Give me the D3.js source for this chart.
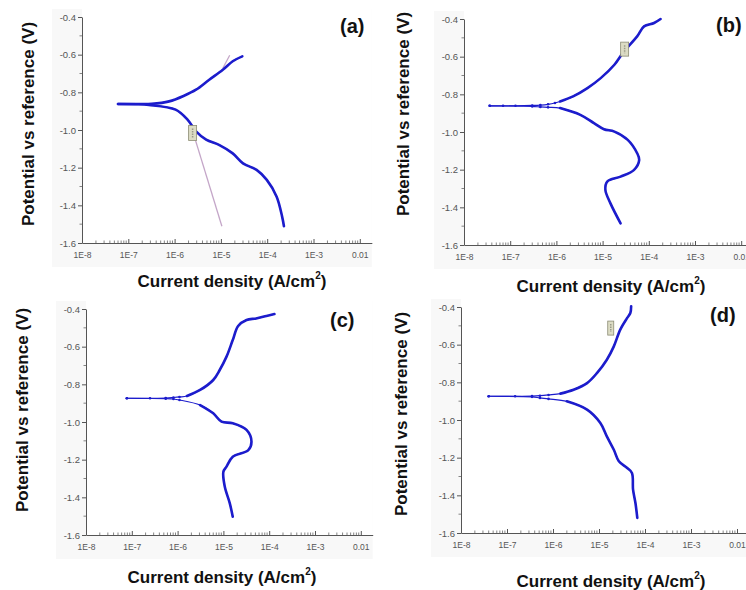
<!DOCTYPE html>
<html>
<head>
<meta charset="utf-8">
<script src="https://cdn.jsdelivr.net/npm/d3@7"></script>
<style>
  body { margin: 0; background: #fff; }
  svg { display: block; }
</style>
</head>
<body>
<svg id="chart" width="746" height="590"></svg>
<script>
// Polarisation curves, [current density (A/cm2), potential (V)]
const aAnodic = [[6.0e-8, -0.862], [1.5e-7, -0.862], [3.2e-7, -0.861], [7.6e-7, -0.848], [1.6e-6, -0.818],
  [2.9e-6, -0.786], [5.6e-6, -0.733], [1.1e-5, -0.680], [1.8e-5, -0.635], [2.9e-5, -0.609]];
const aCathodic = [[6.0e-8, -0.862], [1.5e-7, -0.863], [2.8e-7, -0.867], [1.05e-6, -0.892], [1.9e-6, -0.945],
  [2.9e-6, -1.007], [4.8e-6, -1.051], [9.3e-6, -1.080], [1.8e-5, -1.124], [3.0e-5, -1.177],
  [5.9e-5, -1.212], [9.8e-5, -1.265], [1.6e-4, -1.354], [2.1e-4, -1.460], [2.3e-4, -1.511]];
const aTafelAnodic = [[1.1e-5, -0.672], [1.55e-5, -0.603]];
const aTafelCathodic = [[2.4e-6, -0.998], [1.05e-5, -1.511]];

const bAnodic = [[3.6e-8, -0.861], [7.0e-8, -0.861], [1.3e-7, -0.861], [3.0e-7, -0.859], [4.5e-7, -0.857],
  [6.6e-7, -0.853], [9.3e-7, -0.846], [1.2e-6, -0.838], [2.3e-6, -0.811], [4.7e-6, -0.767],
  [9.1e-6, -0.714], [1.8e-5, -0.643], [2.9e-5, -0.572], [5.6e-5, -0.492], [7.9e-5, -0.439],
  [1.3e-4, -0.421], [1.8e-4, -0.400]];
const bCathodic = [[3.6e-8, -0.861], [3.0e-7, -0.864], [4.5e-7, -0.867], [6.6e-7, -0.869], [1.2e-6, -0.873],
  [3.3e-6, -0.909], [6.5e-6, -0.953], [1.07e-5, -0.985], [1.8e-5, -0.998], [3.5e-5, -1.042],
  [5.6e-5, -1.113], [6.2e-5, -1.148], [4.8e-5, -1.201], [2.45e-5, -1.237], [1.26e-5, -1.263],
  [1.15e-5, -1.308], [1.48e-5, -1.379], [2.45e-5, -1.485]];

const cAnodic = [[7.8e-8, -0.874], [2.5e-7, -0.874], [5.5e-7, -0.873], [8.1e-7, -0.870], [1.1e-6, -0.867],
  [1.6e-6, -0.862], [3.1e-6, -0.830], [6.0e-6, -0.777], [8.3e-6, -0.724], [1.17e-5, -0.653],
  [1.6e-5, -0.565], [2.1e-5, -0.490], [3.2e-5, -0.458], [5.2e-5, -0.450], [8.7e-5, -0.437],
  [1.3e-4, -0.427]];
const cCathodic = [[7.8e-8, -0.874], [5.5e-7, -0.876], [8.1e-7, -0.878], [1.1e-6, -0.883], [3.1e-6, -0.910],
  [6.0e-6, -0.954], [9.1e-6, -0.998], [1.6e-5, -1.007], [3.2e-5, -1.042], [4.1e-5, -1.104],
  [3.5e-5, -1.149], [1.6e-5, -1.184], [1.17e-5, -1.237], [1.0e-5, -1.264], [1.07e-5, -1.343],
  [1.38e-5, -1.432], [1.6e-5, -1.503]];

const dAnodic = [[4.0e-8, -0.874], [1.5e-7, -0.874], [3.5e-7, -0.873], [5.2e-7, -0.871], [8.0e-7, -0.867],
  [1.45e-6, -0.860], [2.8e-6, -0.839], [5.5e-6, -0.804], [9.1e-6, -0.750], [1.48e-5, -0.680],
  [2.1e-5, -0.609], [2.9e-5, -0.520], [4.1e-5, -0.458], [4.8e-5, -0.432], [5.0e-5, -0.396]];
const dCathodic = [[4.0e-8, -0.874], [3.5e-7, -0.877], [5.2e-7, -0.883], [8.0e-7, -0.888], [2.0e-6, -0.901],
  [5.5e-6, -0.945], [1.07e-5, -1.016], [1.48e-5, -1.087], [2.1e-5, -1.158], [2.7e-5, -1.219],
  [4.1e-5, -1.255], [5.2e-5, -1.281], [5.5e-5, -1.370], [6.2e-5, -1.441], [6.8e-5, -1.520]];

// annotation boxes [current, potential]
const aBox = [2.45e-6, -1.016];
const bBox = [3.0e-5, -0.560];
const dBox = [1.8e-5, -0.512];

const xTickValues = [1e-8, 1e-7, 1e-6, 1e-5, 1e-4, 1e-3, 1e-2];
const xTickLabels = ["1E-8", "1E-7", "1E-6", "1E-5", "1E-4", "1E-3", "0.01"];
const yTickValues = [-0.4, -0.6, -0.8, -1.0, -1.2, -1.4, -1.6];
const xDomain = [1e-8, 0.0182];
const yDomain = [-1.6, -0.4];

const panels = [
  { id: "(a)", left: 82, top: 17, bottom: 243, decade: 46.3, series: [aAnodic, aCathodic], thin: 0,
    tafel: [aTafelAnodic, aTafelCathodic], box: aBox, boxW: 8, boxH: 15,
    letter: [340, 33], yTitle: [34, 124], xTitle: [232, 287] },
  { id: "(b)", left: 464, top: 19, bottom: 245, decade: 46.2, series: [bAnodic, bCathodic], thin: 1.1e-6,
    tafel: [], box: bBox, boxW: 8, boxH: 14,
    letter: [716, 32], yTitle: [409, 114], xTitle: [611, 292] },
  { id: "(c)", left: 86, top: 309, bottom: 535, decade: 45.8, series: [cAnodic, cCathodic], thin: 1.5e-6,
    tafel: [], box: null,
    letter: [330, 327], yTitle: [28, 410], xTitle: [222, 583] },
  { id: "(d)", left: 461, top: 307, bottom: 533, decade: 46.0, series: [dAnodic, dCathodic], thin: 1.2e-6,
    tafel: [], box: dBox, boxW: 6, boxH: 14,
    letter: [710, 322], yTitle: [407, 414], xTitle: [611, 587] }
];

const svg = d3.select("#chart");
const font = "Liberation Sans, Arial, sans-serif";
const blue = "#1c1ccc";

panels.forEach(p => {
  const right = p.left + p.decade * Math.log10(xDomain[1] / xDomain[0]);
  const x = d3.scaleLog().domain(xDomain).range([p.left, right]);
  const y = d3.scaleLinear().domain(yDomain).range([p.bottom, p.top]);
  const g = svg.append("g");

  // faint grey plot background
  g.append("rect")
    .attr("x", p.left - 30).attr("y", p.top - 8)
    .attr("width", right - p.left + 30).attr("height", p.bottom - p.top + 32)
    .attr("fill", "#f8f8f8");
  g.append("rect")
    .attr("x", p.left).attr("y", p.top - 8)
    .attr("width", right - p.left).attr("height", p.bottom - p.top + 8)
    .attr("fill", "#fff");

  // minor ticks
  const minorX = [];
  for (let e = -8; e < -1; e++) for (let k = 2; k <= 9; k++) minorX.push(k * Math.pow(10, e));
  g.selectAll(".mx").data(minorX.filter(v => v <= xDomain[1])).join("line")
    .attr("x1", d => x(d)).attr("x2", d => x(d))
    .attr("y1", p.bottom).attr("y2", p.bottom - 2.5)
    .attr("stroke", "#666").attr("stroke-width", 0.8);
  const minorY = d3.range(-1.5, -0.4, 0.2);
  g.selectAll(".my").data(minorY).join("line")
    .attr("x1", p.left).attr("x2", p.left - 2.5)
    .attr("y1", d => y(d)).attr("y2", d => y(d))
    .attr("stroke", "#666").attr("stroke-width", 0.8);

  // x axis
  const xAxis = d3.axisBottom(x).tickValues(xTickValues)
    .tickFormat((d, i) => xTickLabels[i]).tickSizeInner(-4).tickSizeOuter(0).tickPadding(9);
  const gx = g.append("g").attr("transform", `translate(0,${p.bottom})`).call(xAxis);
  gx.select(".domain").attr("stroke", "#555");
  gx.selectAll(".tick line").attr("stroke", "#555");
  gx.selectAll("text").attr("fill", "#555").attr("font-family", font).attr("font-size", 8.5);

  // y axis
  const yAxis = d3.axisLeft(y).tickValues(yTickValues)
    .tickFormat(d => d.toFixed(1)).tickSizeInner(4).tickSizeOuter(0).tickPadding(2);
  const gy = g.append("g").attr("transform", `translate(${p.left},0)`).call(yAxis);
  gy.select(".domain").attr("stroke", "#555");
  gy.selectAll(".tick line").attr("stroke", "#555");
  gy.selectAll("text").attr("fill", "#555").attr("font-family", font).attr("font-size", 9.5);

  // Tafel fit lines
  const straight = d3.line().x(d => x(d[0])).y(d => y(d[1]));
  p.tafel.forEach(t => {
    g.append("path").attr("d", straight(t))
      .attr("fill", "none").attr("stroke", "#c4a6c8").attr("stroke-width", 1.3);
  });

  // curves
  const line = d3.line().x(d => x(d[0])).y(d => y(d[1])).curve(d3.curveCatmullRom.alpha(0.5));
  p.series.forEach(s => {
    g.append("path").attr("d", line(s))
      .attr("fill", "none").attr("stroke", blue).attr("stroke-width", 1.2);
    const thick = s.filter(d => d[0] >= p.thin);
    g.append("path").attr("d", line(thick))
      .attr("fill", "none").attr("stroke", blue).attr("stroke-width", 2.6)
      .attr("stroke-linejoin", "round").attr("stroke-linecap", "round");
    g.selectAll(null).data(s.filter(d => d[0] < p.thin)).join("circle")
      .attr("cx", d => x(d[0])).attr("cy", d => y(d[1])).attr("r", 1.3)
      .attr("fill", blue);
  });

  // little annotation box
  if (p.box) {
    g.append("rect")
      .attr("x", x(p.box[0]) - p.boxW / 2).attr("y", y(p.box[1]) - p.boxH / 2)
      .attr("width", p.boxW).attr("height", p.boxH)
      .attr("fill", "#dcdcc4").attr("stroke", "#8c8c74").attr("stroke-width", 0.8);
    g.append("line")
      .attr("x1", x(p.box[0])).attr("x2", x(p.box[0]))
      .attr("y1", y(p.box[1]) - p.boxH / 2 + 3).attr("y2", y(p.box[1]) + p.boxH / 2 - 3)
      .attr("stroke", "#9a9a88").attr("stroke-width", 1.5).attr("stroke-dasharray", "1.5,1");
  }

  // panel letter
  g.append("text").attr("x", p.letter[0]).attr("y", p.letter[1])
    .attr("font-family", font).attr("font-weight", "bold").attr("font-size", 20)
    .attr("fill", "#111").text(p.id);

  // axis titles
  g.append("text")
    .attr("transform", `translate(${p.yTitle[0]},${p.yTitle[1]}) rotate(-90)`)
    .attr("text-anchor", "middle")
    .attr("font-family", font).attr("font-weight", "bold").attr("font-size", 17)
    .attr("fill", "#111").text("Potential vs reference (V)");
  const xt = g.append("text")
    .attr("x", p.xTitle[0]).attr("y", p.xTitle[1]).attr("text-anchor", "middle")
    .attr("font-family", font).attr("font-weight", "bold").attr("font-size", 17)
    .attr("fill", "#111");
  xt.append("tspan").text("Current density (A/cm");
  xt.append("tspan").attr("dy", -8).attr("font-size", 10).text("2");
  xt.append("tspan").attr("dy", 8).text(")");
});
</script>
</body>
</html>
